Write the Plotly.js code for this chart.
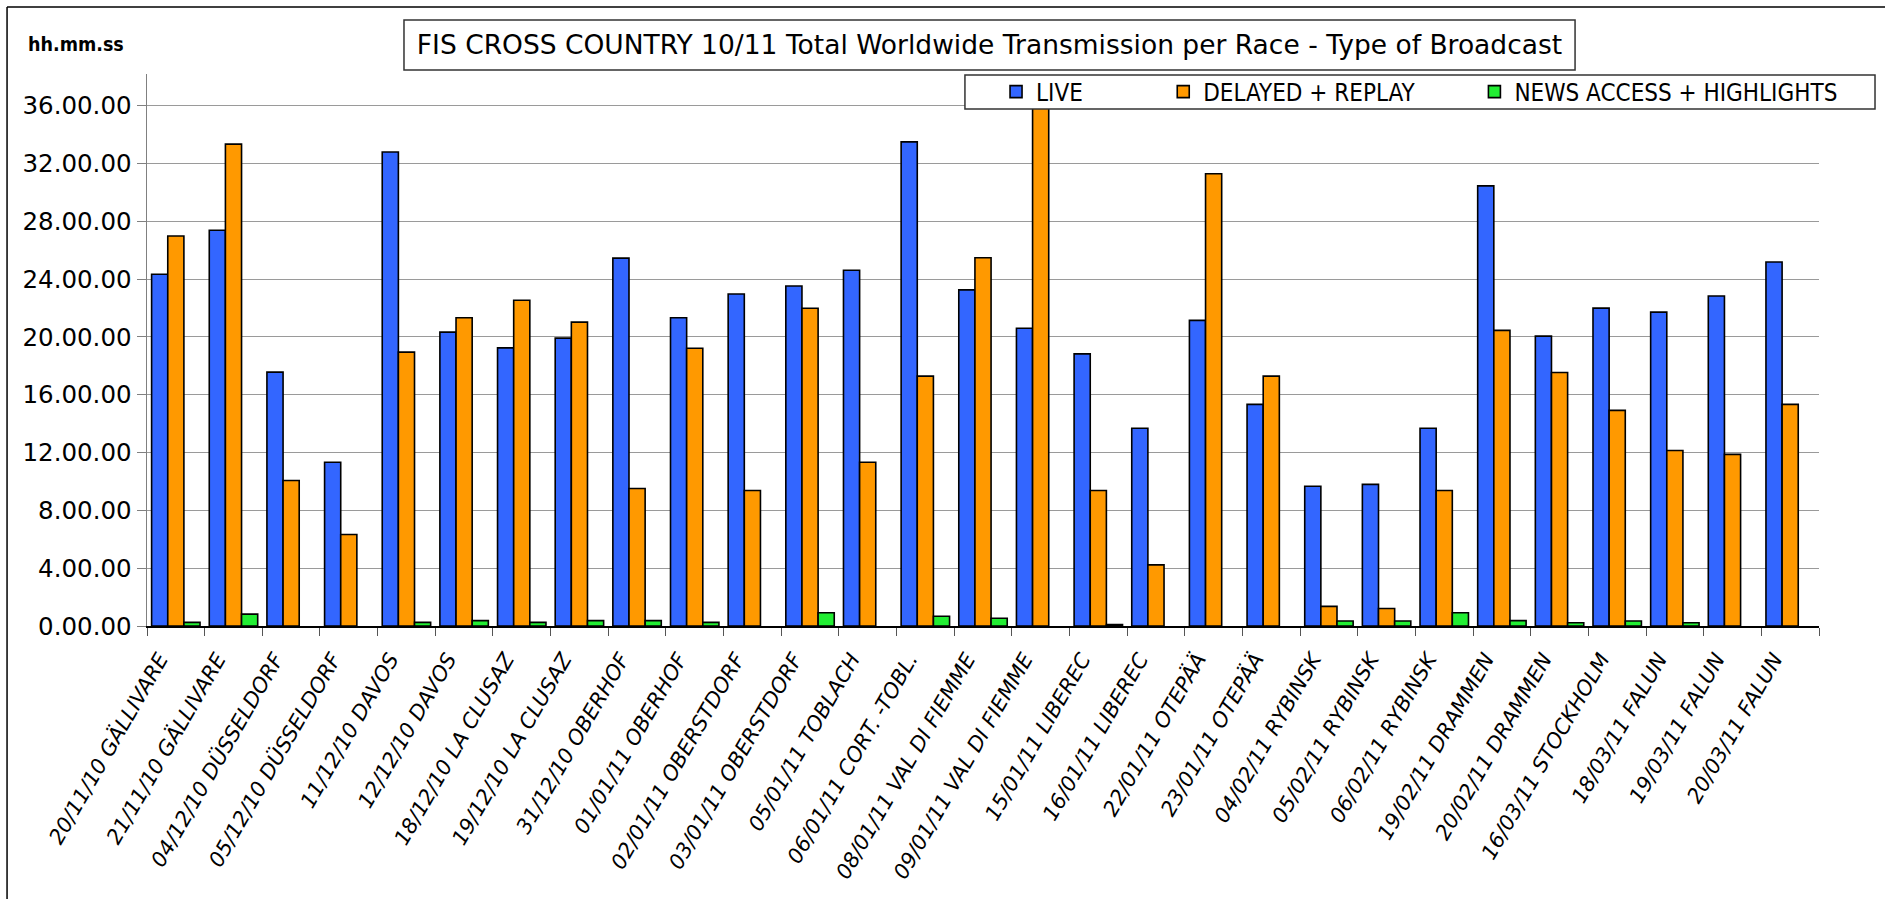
<!DOCTYPE html>
<html>
<head>
<meta charset="utf-8">
<script src="https://cdn.plot.ly/plotly-3.0.1.min.js"></script>
<style>
  html, body { margin: 0; padding: 0; background: #ffffff; }
  #chart { width: 1885px; height: 899px; }
</style>
</head>
<body>
<div id="chart"></div>
<script>
const categories = [
  "20/11/10 GÄLLIVARE", "21/11/10 GÄLLIVARE", "04/12/10 DÜSSELDORF", "05/12/10 DÜSSELDORF",
  "11/12/10 DAVOS", "12/12/10 DAVOS", "18/12/10 LA CLUSAZ", "19/12/10 LA CLUSAZ",
  "31/12/10 OBERHOF", "01/01/11 OBERHOF", "02/01/11 OBERSTDORF", "03/01/11 OBERSTDORF",
  "05/01/11 TOBLACH", "06/01/11 CORT. -TOBL.", "08/01/11 VAL DI FIEMME", "09/01/11 VAL DI FIEMME",
  "15/01/11 LIBEREC", "16/01/11 LIBEREC", "22/01/11 OTEPÄÄ", "23/01/11 OTEPÄÄ",
  "04/02/11 RYBINSK", "05/02/11 RYBINSK", "06/02/11 RYBINSK", "19/02/11 DRAMMEN",
  "20/02/11 DRAMMEN", "16/03/11 STOCKHOLM", "18/03/11 FALUN", "19/03/11 FALUN", "20/03/11 FALUN"
];

const live = [24.34, 27.39, 17.57, 11.33, 32.80, 20.34, 19.25, 19.92, 25.46, 21.33, 22.98, 23.53, 24.62, 33.50, 23.26,
              20.61, 18.83, 13.68, 21.15, 15.34, 9.67, 9.80, 13.68, 30.46, 20.06, 22.00, 21.72, 22.84, 25.19];

const delayedReplay = [26.99, 33.35, 10.07, 6.33, 18.95, 21.33, 22.54, 21.03, 9.52, 19.22, 9.38, 21.99, 11.33, 17.29, 25.48,
                       36.00, 9.38, 4.23, 31.30, 17.29, 1.36, 1.21, 9.38, 20.46, 17.54, 14.92, 12.15, 11.88, 15.34];

const newsHighlights = [0.25, 0.82, null, null, 0.25, 0.37, 0.25, 0.37, 0.37, 0.25, null, 0.92, null, 0.67, 0.54,
                        null, 0.10, null, null, null, 0.35, 0.35, 0.92, 0.37, 0.22, 0.35, 0.22, null, null];

const yTickValues = [0, 4, 8, 12, 16, 20, 24, 28, 32, 36];
const yTickLabels = ["0.00.00", "4.00.00", "8.00.00", "12.00.00", "16.00.00", "20.00.00",
                     "24.00.00", "28.00.00", "32.00.00", "36.00.00"];

const seriesNames = ["LIVE", "DELAYED + REPLAY", "NEWS ACCESS + HIGHLIGHTS"];
const NB = "\u00A0";
const pad = (s, n) => s + NB.repeat(n);

const outline = { color: "#000000", width: 1.6 };

const traces = [
  { type: "bar", name: pad(seriesNames[0], 11), x: categories, y: live,
    marker: { color: "#3366FF", line: outline } },
  { type: "bar", name: pad(seriesNames[1], 8), x: categories, y: delayedReplay,
    marker: { color: "#FF9900", line: outline } },
  { type: "bar", name: seriesNames[2], x: categories, y: newsHighlights,
    marker: { color: "#22EE33", line: outline } }
];

const layout = {
  width: 1885,
  height: 899,
  paper_bgcolor: "#ffffff",
  plot_bgcolor: "#ffffff",
  margin: { l: 147, r: 66, t: 74, b: 273, pad: 0 },
  barmode: "group",
  bargap: 0.16,
  bargroupgap: 0,
  showlegend: true,
  title: {
    text: "FIS CROSS COUNTRY 10/11 Total Worldwide Transmission per Race - Type of Broadcast",
    font: { family: "DejaVu Sans", size: 26.5, color: "#000000" },
    x: 0.5039, xref: "paper", xanchor: "center",
    y: 0.95, yref: "container", yanchor: "middle"
  },
  legend: {
    orientation: "h",
    x: 0.5078, xanchor: "left",
    y: 0.9674, yanchor: "middle",
    bgcolor: "rgba(0,0,0,0)",
    borderwidth: 0,
    font: { family: "DejaVu Sans Condensed, Liberation Sans, sans-serif", size: 24, color: "#000000" },
    itemwidth: 30,
    traceorder: "normal"
  },
  xaxis: {
    type: "category",
    showline: true, linecolor: "#000000", linewidth: 1.5,
    ticks: "outside", tickson: "boundaries", ticklen: 8, tickcolor: "#555555", tickwidth: 1,
    tickangle: -60,
    ticklabelstandoff: 11,
    ticklabelshift: -16,
    tickfont: { family: "DejaVu Sans", size: 21, color: "#000000", style: "italic" },
    showgrid: false, zeroline: false,
    automargin: false
  },
  yaxis: {
    range: [0, 38.2],
    tickvals: yTickValues, ticktext: yTickLabels,
    showline: true, linecolor: "#808080", linewidth: 1.5,
    ticks: "outside", ticklen: 9, tickcolor: "#808080", tickwidth: 1,
    showgrid: true, gridcolor: "#9a9a9a", gridwidth: 1,
    zeroline: false,
    tickfont: { family: "DejaVu Sans", size: 24.5, color: "#000000" },
    automargin: false
  },
  shapes: [
    { type: "line", xref: "paper", yref: "paper", x0: -0.0837, x1: 1.05, y0: 1.1214, y1: 1.1214,
      line: { color: "#000000", width: 1.5 } },
    { type: "line", xref: "paper", yref: "paper", x0: -0.0837, x1: -0.0837, y0: 1.1214, y1: -0.52,
      line: { color: "#000000", width: 1.5 } },
    { type: "rect", xref: "paper", yref: "paper", x0: 0.1537, x1: 0.8541, y0: 1.00725, y1: 1.0978,
      line: { color: "#333333", width: 1.5 }, fillcolor: "rgba(255,255,255,0)", layer: "above" },
    { type: "rect", xref: "paper", yref: "paper", x0: 0.4892, x1: 1.0335, y0: 0.9366, y1: 0.9982,
      line: { color: "#333333", width: 1.5 }, fillcolor: "#ffffff", layer: "above" }
  ],
  annotations: [
    { text: "hh.mm.ss", xref: "paper", yref: "paper", x: -0.0724, y: 1.054,
      xanchor: "left", yanchor: "middle", showarrow: false,
      font: { family: "DejaVu Sans Condensed, DejaVu Sans", size: 19.5, color: "#000000", weight: "bold" } }
  ]
};

Plotly.newPlot("chart", traces, layout, { displayModeBar: false, staticPlot: true });
</script>
</body>
</html>
